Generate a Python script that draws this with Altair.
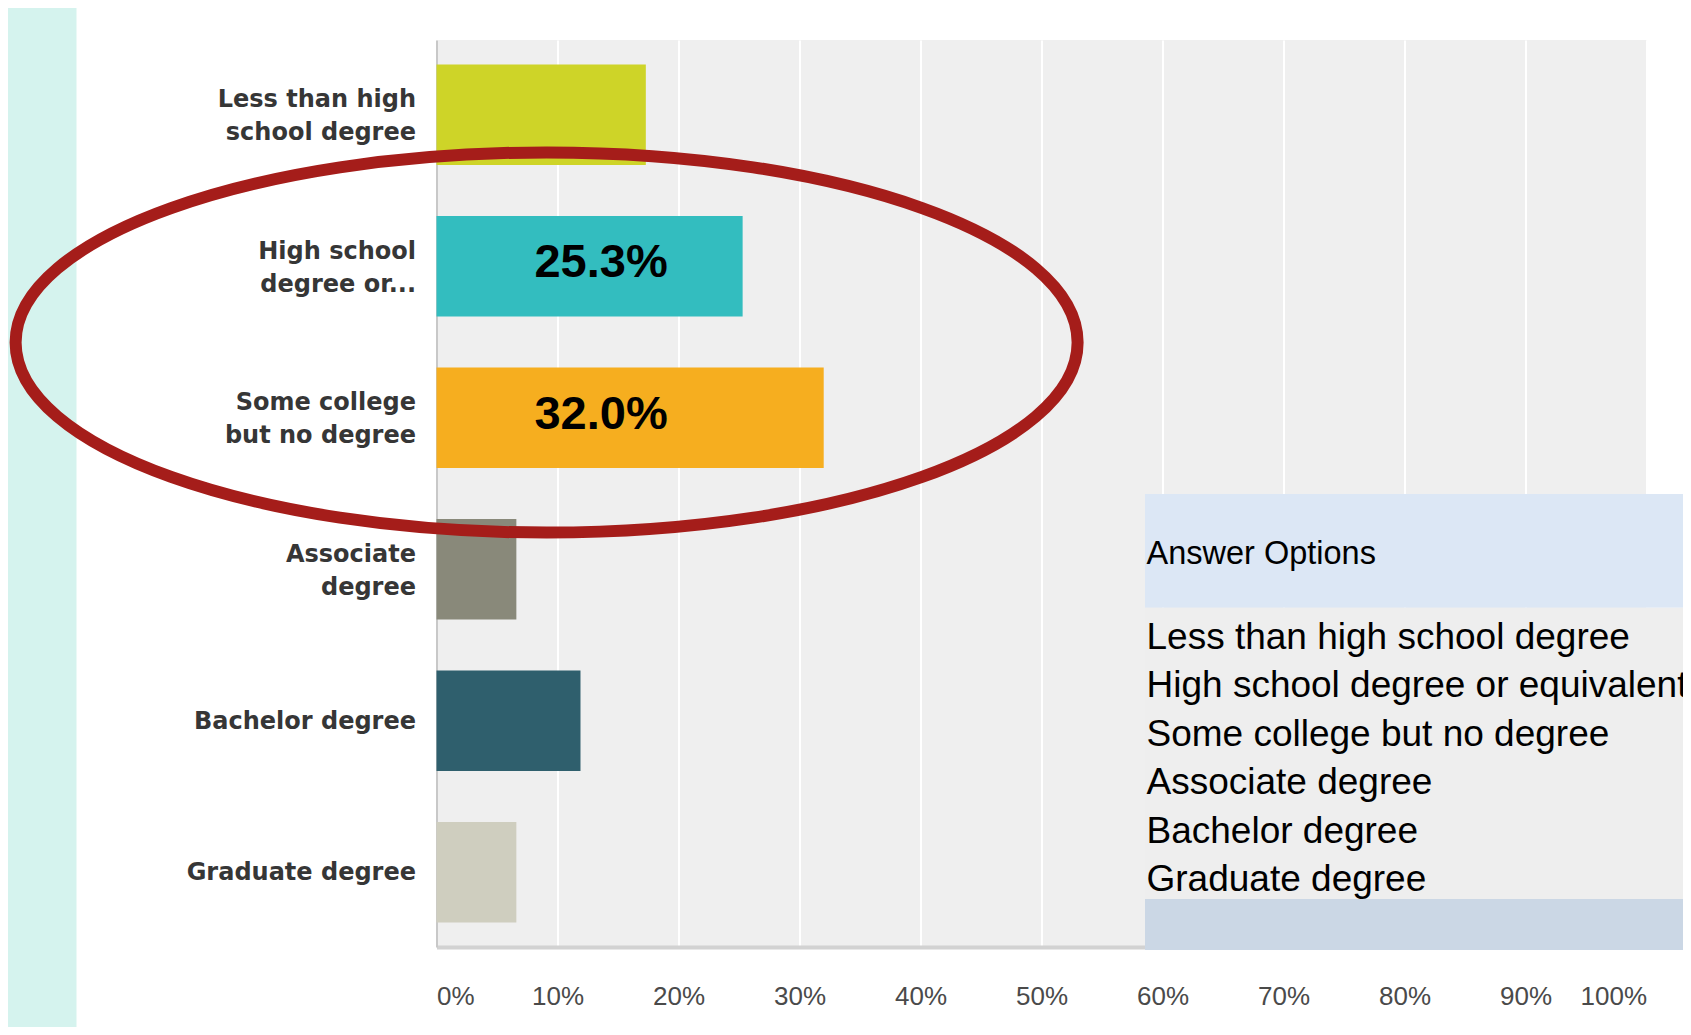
import altair as alt
import pandas as pd

# ---- data ----
categories = [
    "Less than high school degree",
    "High school degree or equivalent",
    "Some college but no degree",
    "Associate degree",
    "Bachelor degree",
    "Graduate degree",
]
axis_labels = [
    "Less than high|school degree",
    "High school|degree or...",
    "Some college|but no degree",
    "Associate|degree",
    "Bachelor degree",
    "Graduate degree",
]
percent = [17.3, 25.3, 32.0, 6.6, 11.9, 6.6]
bar_colors = ["#CED428", "#33BDBF", "#F6AE1F", "#89897A", "#2F5F6D", "#CFCEBF"]
highlighted = ["High school degree or equivalent", "Some college but no degree"]
x_ticks = [0, 10, 20, 30, 40, 50, 60, 70, 80, 90, 100]
table_header = "Answer Options"

# annotation anchors (data units on the x axis)
label_x_pct = 13.6
ellipse_x_pct = 9.1

df = pd.DataFrame({"category": categories, "axis_label": axis_labels, "percent": percent})
df["label"] = [f"{p:.1f}%" if c in highlighted else "" for c, p in zip(categories, percent)]

W, H = 1210, 907

x_scale = alt.Scale(domain=[0, 100], nice=False, zero=True)
y_scale = alt.Scale(domain=axis_labels, paddingInner=0.337, paddingOuter=0.162)
x_axis = alt.Axis(title=None, values=x_ticks, labelExpr="datum.value + '%'", labelFlush=True,
                  labelOverlap=False, ticks=False, tickSize=0, labelPadding=36, grid=True)
y_axis = alt.Axis(
    title=None, labelExpr="split(datum.label, '|')", ticks=False, tickSize=0,
    labelPadding=21, grid=False, labelLineHeight=33, labelLimit=500,
    labelOffset={"condition": {"test": "indexof(datum.value, '|') >= 0", "value": -14.5}, "value": 1},
)

bars = alt.Chart(df).mark_bar(opacity=1).encode(
    x=alt.X("percent:Q", scale=x_scale, axis=x_axis),
    y=alt.Y("axis_label:N", sort=axis_labels, scale=y_scale, axis=y_axis),
    color=alt.Color("axis_label:N", scale=alt.Scale(domain=axis_labels, range=bar_colors), legend=None),
)

labels = alt.Chart(df).transform_filter("datum.label != ''").transform_calculate(
    lx=str(label_x_pct)
).mark_text(font="Liberation Sans", fontWeight="bold", fontSize=47, color="#000000",
            align="center", baseline="middle", dy=-3).encode(
    x=alt.X("lx:Q", scale=x_scale, axis=x_axis),
    y=alt.Y("axis_label:N", sort=axis_labels, scale=y_scale, axis=y_axis),
    text="label:N",
)

ellipse_path = "M -1 0 A 1 0.358 0 1 0 1 0 A 1 0.358 0 1 0 -1 0 Z"
ellipse = alt.Chart(pd.DataFrame({"ex": [ellipse_x_pct]})).mark_point(
    shape=ellipse_path, size=1127844, filled=False, stroke="#A51D1A", strokeWidth=12, opacity=1
).encode(
    x=alt.X("ex:Q", scale=x_scale, axis=x_axis),
    y=alt.value(302.5),
)

one = pd.DataFrame({"k": [0]})

teal_strip = alt.Chart(one).mark_rect(fill="#D5F3EE").encode(
    x=alt.value(-440), x2=alt.value(-360), y=alt.value(-40), y2=alt.value(1000)
)
box_header = alt.Chart(one).mark_rect(fill="#DCE7F5").encode(
    x=alt.value(708.5), x2=alt.value(1300), y=alt.value(454), y2=alt.value(567.7)
)
box_body = alt.Chart(one).mark_rect(fill="#EEEEEE").encode(
    x=alt.value(708.5), x2=alt.value(1300), y=alt.value(567.7), y2=alt.value(859)
)
box_footer = alt.Chart(one).mark_rect(fill="#CBD7E5").encode(
    x=alt.value(708.5), x2=alt.value(1300), y=alt.value(859), y2=alt.value(910)
)
header_text = alt.Chart(one).mark_text(font="Liberation Sans", fontSize=32.5, color="#000000",
                                       align="left", baseline="alphabetic").encode(
    x=alt.value(710), y=alt.value(524), text=alt.value(table_header)
)
list_text = alt.Chart(one).mark_text(font="Liberation Sans", fontSize=37, color="#000000",
                                     align="left", baseline="alphabetic", lineHeight=48.5).encode(
    x=alt.value(710), y=alt.value(608.5), text=alt.value(categories)
)

chart = alt.layer(
    teal_strip, bars, labels, ellipse, box_header, box_body, box_footer, header_text, list_text
).properties(
    width=W, height=H,
    autosize=alt.AutoSizeParams(type="none"),
    padding={"left": 428.5, "top": 32, "right": 36.5, "bottom": 80},
    background="#FFFFFF",
).configure_view(fill="#EFEFEF", strokeWidth=0).configure_axisX(
    labelFont="Liberation Sans", labelFontSize=26, labelColor="#4A4A4A",
    gridColor="#FFFFFF", gridWidth=2, gridOpacity=1,
    domainColor="#D2D2D2", domainWidth=4,
).configure_axisY(
    labelFont="DejaVu Sans", labelFontWeight="bold", labelFontSize=24, labelColor="#363636",
    domainColor="#C8C8C8", domainWidth=2,
)

chart.save("out.html", embed_options={"renderer": "svg", "actions": False})
